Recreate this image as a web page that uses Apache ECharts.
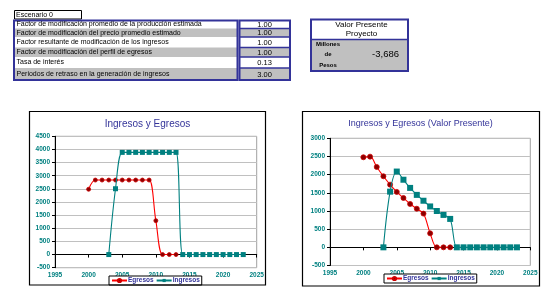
<!DOCTYPE html>
<html><head><meta charset="utf-8">
<script src="https://cdn.jsdelivr.net/npm/echarts@6/dist/echarts.min.js"></script>
<style>html,body{margin:0;padding:0;background:#fff}#c{width:551px;height:293px}</style>
</head><body><div id="c"></div>
<script>
// ---- data ----
const years     = [2000,2001,2002,2003,2004,2005,2006,2007,2008,2009,2010,2011,2012,2013,2014,2015,2016,2017,2018,2019,2020,2021,2022,2023];
const egresos   = [2485,2835,2835,2835,2835,2835,2835,2835,2835,2835,1290,0,0,0,null,null,null,null,null,null,null,null,null,null];
const ingresos  = [null,null,null,0,2505,3888,3888,3888,3888,3888,3888,3888,3888,3888,0,0,0,0,0,0,0,0,0,0];
const egresosVP = [2478,2495,2212,1955,1725,1525,1358,1193,1062,928,385,0,0,0,null,null,null,null,null,null,null,null,null,null];
const ingresosVP= [null,null,null,0,1532,2085,1860,1635,1443,1282,1125,1000,892,782,0,0,0,0,0,0,0,0,0,0];
const xTicks = [1995,2000,2005,2010,2015,2020,2025];
const tableLabels = [
  'Factor de modificación promedio de la producción estimada',
  'Factor de modificación del precio promedio estimado',
  'Factor resultante de modificación de los ingresos',
  'Factor de modificación del perfil de egresos',
  'Tasa de interés',
  'Periodos de retraso en la generación de ingresos'
];
const tableValues = ['1.00','1.00','1.00','1.00','0.13','3.00'];
const scenarioLabel = 'Escenario 0';
const vpTitle = ['Valor Presente','Proyecto'];
const vpUnits = ['Millones','de','Pesos'];
const vpValue = '-3,686';
const title1 = 'Ingresos y Egresos';
const title2 = 'Ingresos y Egresos (Valor Presente)';

// ---- helpers ----
function pairs(v){ const out=[]; years.forEach((y,i)=>{ if(v[i]!==null) out.push([y,v[i]]); }); return out; }
const FF = '"Liberation Sans", Arial, sans-serif';
const NAVY = '#333399', TEAL = '#008080', RED = '#ff0000', GRAY='#c0c0c0';
function txt(t,x,y,size,opts){ opts=opts||{}; return {type:'text',silent:true,z:10,style:{text:t,x:x,y:y,
  font:(opts.bold?'bold ':'')+size+'px '+FF, fill:opts.color||'#000',
  textAlign:opts.align||'left', align:opts.align||'left', textVerticalAlign:'middle', verticalAlign:'middle'}}; }
function rect(x,y,w,h,fill,stroke,lw,z){ return {type:'rect',silent:true,z:z||1,shape:{x:x,y:y,width:w,height:h},style:{fill:fill,stroke:stroke||null,lineWidth:lw||0}}; }
function line(x1,y1,x2,y2,stroke,lw){ return {type:'line',silent:true,z:5,shape:{x1:x1,y1:y1,x2:x2,y2:y2},style:{stroke:stroke,lineWidth:lw}}; }

const g = [];
// scenario box
g.push(rect(14.5,10.5,67,8.5,'#fff','#000',1));
g.push(txt(scenarioLabel,16,15,7));
// parameter table
const rowB = [20.5,28.5,37,47.5,57,68,80];
for(let i=0;i<6;i++){
  const fill = i%2===0 ? '#fff' : GRAY;
  g.push(rect(14,rowB[i],223.5,rowB[i+1]-rowB[i],fill));
  g.push(rect(239.5,rowB[i],50.5,rowB[i+1]-rowB[i],fill));
  g.push(txt(tableLabels[i],16.5,(rowB[i]+rowB[i+1])/2,7));
  g.push(txt(tableValues[i],264.5,(rowB[i]+rowB[i+1])/2+0.5,7.5,{align:'center'}));
  if(i>0) g.push(line(239.5,rowB[i],290,rowB[i],NAVY,1.5));
}
g.push(rect(14,20.5,223.5,59.5,null,NAVY,2,6));
g.push(rect(239.5,20.5,50.5,59.5,null,NAVY,2,6));
// valor presente box
g.push(rect(311,19.5,97,20,'#fff'));
g.push(rect(311,39.5,97,31.5,GRAY));
g.push(rect(311,19.5,97,51.5,null,NAVY,2,6));
g.push(line(311,39.5,408,39.5,NAVY,1.5));
g.push(txt(vpTitle[0],361.5,25,8,{align:'center'}));
g.push(txt(vpTitle[1],361.5,33.5,8,{align:'center'}));
g.push(txt(vpUnits[0],328,44,6,{align:'center',bold:true}));
g.push(txt(vpUnits[1],328,54.5,6,{align:'center',bold:true}));
g.push(txt(vpUnits[2],328,65,6,{align:'center',bold:true}));
g.push(txt(vpValue,399,54.5,9.5,{align:'right'}));
// chart frames
g.push(rect(29.5,111.5,236,173.5,null,'#000',1.2,6));
g.push(rect(302.5,111.5,237,174.5,null,'#000',1.2,6));
// titles
g.push(txt(title1,147.5,124.5,10,{align:'center',color:NAVY}));
g.push(txt(title2,420.5,123.5,9,{align:'center',color:NAVY}));

function xAxisCfg(gi){ return {type:'value',gridIndex:gi,min:1995,max:2025,interval:5,
  axisLine:{onZero:true,lineStyle:{color:'#000',width:1}},
  axisTick:{show:true,length:3,lineStyle:{color:'#000'}},
  splitLine:{show:false},
  axisLabel:{color:TEAL,fontSize:6.5,fontWeight:'bold',fontFamily:FF,margin:4,showMinLabel:true,showMaxLabel:true,formatter:v=>String(v)}}; }
function yAxisCfg(gi,max){ return {type:'value',gridIndex:gi,min:-500,max:max,interval:500,
  axisLine:{show:true,onZero:false,lineStyle:{color:'#000',width:1}},
  axisTick:{show:true,length:3,lineStyle:{color:'#000'}},
  splitLine:{show:true,lineStyle:{color:GRAY,width:1}},
  axisLabel:{color:TEAL,fontSize:6.5,fontWeight:'bold',fontFamily:FF,margin:5,formatter:v=>String(v)}}; }
function egSeries(name,data,xi,size){ return {name:name,type:'line',xAxisIndex:xi,yAxisIndex:xi,data:pairs(data),smooth:0.35,
  symbol:'circle',symbolSize:size,showAllSymbol:true,lineStyle:{color:RED,width:1.1},
  itemStyle:{color:'#8b0000',borderColor:'#cc0000',borderWidth:0.8},z:3,animation:false}; }
function inSeries(name,data,xi,size){ return {name:name,type:'line',xAxisIndex:xi,yAxisIndex:xi,data:pairs(data),smooth:0.35,
  symbol:'rect',symbolSize:size,showAllSymbol:true,lineStyle:{color:TEAL,width:1.1},
  itemStyle:{color:TEAL,borderWidth:0},z:4,animation:false}; }
function legendCfg(left,top){ return {left:left,top:top,orient:'horizontal',data:['Egresos','Ingresos'],
  backgroundColor:'#fff',borderColor:'#000',borderWidth:1,borderRadius:0,padding:[1,2,1,2],
  itemWidth:15,itemHeight:4,itemGap:2,selectedMode:false,
  textStyle:{color:NAVY,fontSize:6.5,fontWeight:'bold',fontFamily:FF,padding:[0,0,0,-4]}}; }

const option = {
  animation:false,
  backgroundColor:'#fff',
  graphic:{elements:g},
  grid:[
    {left:55,top:136.3,width:201.7,height:131.4,show:true,borderColor:'#a0a0a0',borderWidth:1,backgroundColor:'transparent'},
    {left:330,top:138.3,width:200.3,height:127.2,show:true,borderColor:'#a0a0a0',borderWidth:1,backgroundColor:'transparent'}
  ],
  xAxis:[xAxisCfg(0),xAxisCfg(1)],
  yAxis:[yAxisCfg(0,4500),yAxisCfg(1,3000)],
  legend:[legendCfg(109,276),legendCfg(384,274)],
  series:[
    egSeries('Egresos',egresos,0,4),
    inSeries('Ingresos',ingresos,0,5),
    egSeries('Egresos',egresosVP,1,5),
    inSeries('Ingresos',ingresosVP,1,6)
  ]
};
const chart = echarts.init(document.getElementById('c'),null,{renderer:'canvas'});
chart.setOption(option);
</script></body></html>
